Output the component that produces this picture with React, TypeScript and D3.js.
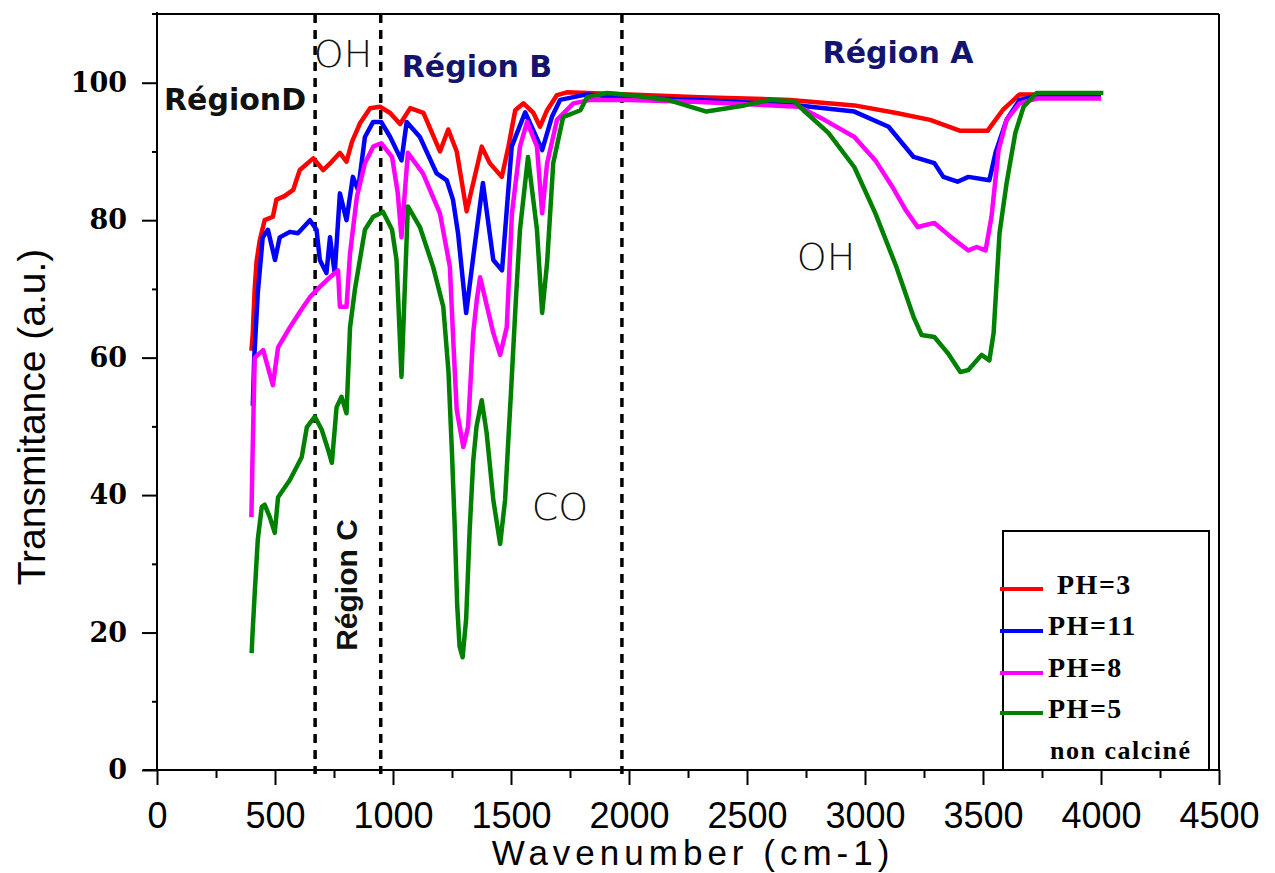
import React, { useEffect, useRef } from 'react'
import * as d3 from 'd3'

// [wavenumber (cm-1), transmittance]
const ph3: [number, number][] = [
  [400, 61], [405, 63], [414, 70], [422, 74], [435, 77], [456, 80], [491, 80.5], [506, 83], [540, 83.5],
  [577, 84.4], [605, 87.3], [662, 89], [704, 87.3], [740, 88.5], [775, 89.8], [803, 88.5], [826, 91.4],
  [860, 94.1], [903, 96.3], [945, 96.5], [988, 95.6], [1030, 94], [1073, 96.3], [1129, 95.6], [1199, 90],
  [1234, 93.2], [1270, 90], [1312, 81.3], [1333, 84.4], [1376, 90.7], [1410, 88.3], [1461, 86.3],
  [1489, 90.7], [1518, 96], [1553, 97], [1595, 95.6], [1623, 93.6], [1653, 96], [1695, 98.2], [1737, 98.6],
  [2000, 98.3], [2300, 97.9], [2683, 97.5], [2955, 96.7], [3133, 95.6], [3276, 94.6], [3404, 93],
  [3519, 93], [3583, 96], [3655, 98.3], [4000, 98.3],
]

const ph11: [number, number][] = [
  [406, 53], [412, 60], [427, 69.4], [448, 77.5], [470, 78.6], [488, 76], [500, 74.2], [520, 77.5],
  [563, 78.3], [597, 78.1], [648, 80], [676, 78.6], [690, 74.2], [718, 72.3], [733, 77.5], [753, 72.3],
  [775, 83.9], [803, 80], [830, 86.3], [852, 84.4], [881, 92.1], [916, 94.3], [950, 94.3], [988, 92.1],
  [1036, 88.7], [1058, 94.3], [1114, 92.1], [1185, 86.8], [1228, 85.8], [1254, 83], [1276, 78],
  [1310, 66.5], [1345, 76], [1381, 85.4], [1425, 74.2], [1462, 72.7], [1503, 90.7], [1560, 95.7],
  [1632, 90.2], [1673, 95], [1708, 97.5], [1822, 98.3], [2000, 97.8], [2300, 97.5], [2720, 96.7],
  [2955, 95.8], [3100, 93.6], [3206, 89.2], [3294, 88.3], [3332, 86.3], [3392, 85.6], [3438, 86.3],
  [3527, 85.8], [3553, 89.8], [3600, 94.6], [3655, 97.5], [3707, 97.9], [4000, 97.9],
]

const ph8: [number, number][] = [
  [400, 36.8], [405, 46], [414, 60], [450, 61.1], [491, 56], [513, 61.5], [563, 64.4], [610, 66.9],
  [648, 68.8], [690, 70.3], [733, 71.7], [767, 72.7], [775, 67.4], [803, 67.4], [818, 75.2], [847, 83.4],
  [881, 88.3], [916, 90.7], [950, 91.2], [996, 89.2], [1020, 84], [1036, 77.5], [1050, 84], [1063, 89.8],
  [1127, 86.8], [1199, 81], [1241, 73.2], [1256, 62], [1270, 52.4], [1298, 47], [1318, 49.9],
  [1340, 63.6], [1355, 68.4], [1369, 71.7], [1425, 63.6], [1454, 60.4], [1482, 64.4], [1504, 81],
  [1538, 90.7], [1568, 94.3], [1610, 90.7], [1632, 81], [1653, 88.3], [1695, 94.6], [1764, 97],
  [1836, 97.5], [2000, 97.5], [2300, 97.2], [2720, 96.5], [2828, 94.6], [2955, 92.1], [3044, 88.7],
  [3117, 84.8], [3172, 81.5], [3223, 79], [3294, 79.6], [3366, 77.5], [3438, 75.6], [3473, 76.1],
  [3511, 75.6], [3536, 80.5], [3566, 90.2], [3600, 94.6], [3655, 97], [3727, 97.7], [4000, 97.7],
]

const ph5: [number, number][] = [
  [401, 17], [405, 20], [414, 25.7], [427, 33.5], [444, 38.3], [456, 38.6], [478, 36.8], [499, 34.5],
  [513, 39.7], [563, 42.2], [613, 45.5], [635, 49.9], [669, 51.4], [698, 49.5], [725, 46.6], [741, 44.7],
  [761, 52.8], [782, 54.3], [803, 51.9], [818, 64.4], [839, 70], [881, 78.6], [916, 80.5], [958, 81.2],
  [996, 78.6], [1015, 74.2], [1036, 57.2], [1063, 82], [1114, 79], [1170, 73.2], [1213, 67.4],
  [1235, 58], [1250, 46], [1262, 35], [1272, 24], [1282, 18], [1295, 16.4], [1310, 22], [1325, 35],
  [1340, 45], [1354, 50], [1376, 53.8], [1397, 49], [1425, 39.3], [1454, 32.9], [1475, 39.3],
  [1488, 47.6], [1500, 55], [1520, 68], [1538, 78.6], [1572, 89.2], [1610, 78.6], [1632, 66.5],
  [1653, 73.8], [1679, 88.3], [1721, 95], [1794, 96], [1822, 97.9], [1907, 98.5], [2000, 98.2],
  [2165, 97.5], [2328, 95.8], [2489, 96.7], [2600, 97.5], [2700, 97.3], [2739, 96], [2845, 92.7],
  [2955, 87.7], [3044, 81], [3133, 73.2], [3206, 65.9], [3240, 63.3], [3294, 63], [3350, 60.7],
  [3404, 57.9], [3438, 58.2], [3494, 60.4], [3527, 59.6], [3545, 63.6], [3570, 78.1], [3600, 85.4],
  [3637, 92.7], [3672, 96.5], [3727, 98.5], [4010, 98.5],
]

const seriesNames = ['PH=3', 'PH=11', 'PH=8', 'PH=5']
const seriesColors = ['#ff0000', '#0000ff', '#ff00ff', '#008000']
const seriesData = [ph3, ph11, ph8, ph5]

const regionBounds = [670, 948, 1970]
const xTicks = [0, 500, 1000, 1500, 2000, 2500, 3000, 3500, 4000, 4500]
const xMinor = [250, 750, 1250, 1750, 2250, 2750, 3250, 3750, 4250]
const yTicks = [0, 20, 40, 60, 80, 100]
const yMinor = [10, 30, 50, 70, 90]

const App = () => {
  const svgRef = useRef<SVGSVGElement>(null)
  const width = 1275
  const height = 873
  const m = { left: 157, right: 1219, top: 14, bottom: 770 }

  useEffect(() => {
    const svg = d3.select(svgRef.current)
    svg.selectAll('*').remove()

    const x = d3.scaleLinear().domain([0, 4500]).range([m.left, m.right])
    const y = d3.scaleLinear().domain([0, 110]).range([m.bottom, m.top])

    // frame
    svg.append('line').attr('x1', m.left - 5).attr('x2', m.right).attr('y1', m.top).attr('y2', m.top)
      .attr('stroke', '#000').attr('stroke-width', 2)
    svg.append('line').attr('x1', m.right).attr('x2', m.right).attr('y1', m.top).attr('y2', m.bottom)
      .attr('stroke', '#000').attr('stroke-width', 2)

    // axes
    const gx = svg.append('g').attr('transform', `translate(0,${m.bottom})`)
    gx.call(d3.axisBottom(x).tickValues(xMinor).tickSize(8).tickFormat(() => '').tickSizeOuter(0))
    gx.call((g) => g.select('.domain').remove())
    const gx2 = svg.append('g').attr('transform', `translate(0,${m.bottom})`)
    gx2.call(d3.axisBottom(x).tickValues(xTicks).tickSize(15).tickPadding(17).tickSizeOuter(0).tickFormat(d3.format('d')))
    gx2.select('.domain').attr('d', `M${m.left - 14},0H${m.right}`)
    gx2.selectAll('text').attr('font-family', '"Liberation Sans", Arial, sans-serif').attr('font-size', 36).attr('fill', '#000')

    const gy = svg.append('g').attr('transform', `translate(${m.left},0)`)
    gy.call(d3.axisLeft(y).tickValues(yMinor).tickSize(5).tickFormat(() => '').tickSizeOuter(0))
    gy.call((g) => g.select('.domain').remove())
    const gy2 = svg.append('g').attr('transform', `translate(${m.left},0)`)
    gy2.call(d3.axisLeft(y).tickValues(yTicks).tickSize(15).tickPadding(15).tickSizeOuter(0))
    gy2.select('.domain').attr('d', `M0,${m.bottom}V${m.top - 2}`)
    gy2.selectAll('text').attr('font-family', '"DejaVu Serif", serif').attr('font-weight', 'bold').attr('font-size', 27).attr('fill', '#000')

    svg.selectAll('.domain, .tick line').attr('stroke', '#000').attr('stroke-width', 2)

    // region separators
    svg.append('g').selectAll('line').data(regionBounds).join('line')
      .attr('x1', (d) => x(d)).attr('x2', (d) => x(d))
      .attr('y1', m.top).attr('y2', m.bottom + 4)
      .attr('stroke', '#000').attr('stroke-width', 3.5).attr('stroke-dasharray', '9 7')

    // spectra
    const line = d3.line<[number, number]>().x((d) => x(d[0])).y((d) => y(d[1]))
    svg.append('g').selectAll('path').data(seriesData).join('path')
      .attr('d', (d) => line(d))
      .attr('fill', 'none')
      .attr('stroke', (d, i) => seriesColors[i])
      .attr('stroke-width', 4.5)
      .attr('stroke-linejoin', 'round')

    // annotations
    const thin = (t: string, cx: number, by: number) =>
      svg.append('text').attr('x', cx).attr('y', by).attr('text-anchor', 'middle')
        .attr('font-family', '"DejaVu Sans", sans-serif').attr('font-weight', 200)
        .attr('font-size', 38).attr('fill', '#111').text(t)
    thin('OH', 343, 67)
    thin('CO', 560, 520)
    thin('OH', 826, 270)

    const bold = (t: string, cx: number, by: number, color: string) =>
      svg.append('text').attr('x', cx).attr('y', by).attr('text-anchor', 'middle')
        .attr('font-family', '"DejaVu Sans", sans-serif').attr('font-weight', 'bold')
        .attr('font-size', 30).attr('fill', color).text(t)
    bold('Région B', 477, 77, '#14146e')
    bold('Région A', 898, 63, '#14146e')
    bold('RégionD', 235, 110, '#111')

    svg.append('text').attr('transform', 'translate(357,585) rotate(-90)')
      .attr('text-anchor', 'middle').attr('font-family', '"Liberation Sans", Arial, sans-serif')
      .attr('font-weight', 'bold').attr('font-size', 30).attr('fill', '#111').text('Région C')

    // axis titles
    svg.append('text').attr('x', 693).attr('y', 865).attr('text-anchor', 'middle')
      .attr('font-family', '"Liberation Sans", Arial, sans-serif').attr('font-size', 35)
      .attr('letter-spacing', 5).attr('fill', '#000').text('Wavenumber (cm-1)')
    svg.append('text').attr('transform', 'translate(45,417) rotate(-90)').attr('text-anchor', 'middle')
      .attr('font-family', '"Liberation Sans", Arial, sans-serif').attr('font-size', 39)
      .attr('fill', '#000').text('Transmitance (a.u.)')

    // legend
    const lg = svg.append('g')
    lg.append('rect').attr('x', 1003).attr('y', 531).attr('width', 206).attr('height', m.bottom - 531)
      .attr('fill', '#fff').attr('stroke', '#000').attr('stroke-width', 2)
    const rowLine = [589, 631, 673, 713]
    const rowText = [594, 635, 677, 718]
    const textX = [1057, 1048, 1048, 1048]
    seriesNames.forEach((name, i) => {
      lg.append('line').attr('x1', 1000).attr('x2', 1043).attr('y1', rowLine[i]).attr('y2', rowLine[i])
        .attr('stroke', seriesColors[i]).attr('stroke-width', 4)
      lg.append('text').attr('x', textX[i]).attr('y', rowText[i])
        .attr('font-family', '"Liberation Serif", "Times New Roman", serif').attr('font-weight', 'bold')
        .attr('font-size', 28).attr('letter-spacing', 1.5).attr('fill', '#000').text(name)
    })
    lg.append('text').attr('x', 1050).attr('y', 759)
      .attr('font-family', '"Liberation Serif", "Times New Roman", serif').attr('font-weight', 'bold')
      .attr('font-size', 26).attr('letter-spacing', 1.5).attr('fill', '#000').text('non calciné')
  }, [])

  return (
    <svg
      ref={svgRef}
      width={width}
      height={height}
      style={{ position: 'absolute', left: 0, top: 0, background: '#fff' }}
    />
  )
}

export default App
